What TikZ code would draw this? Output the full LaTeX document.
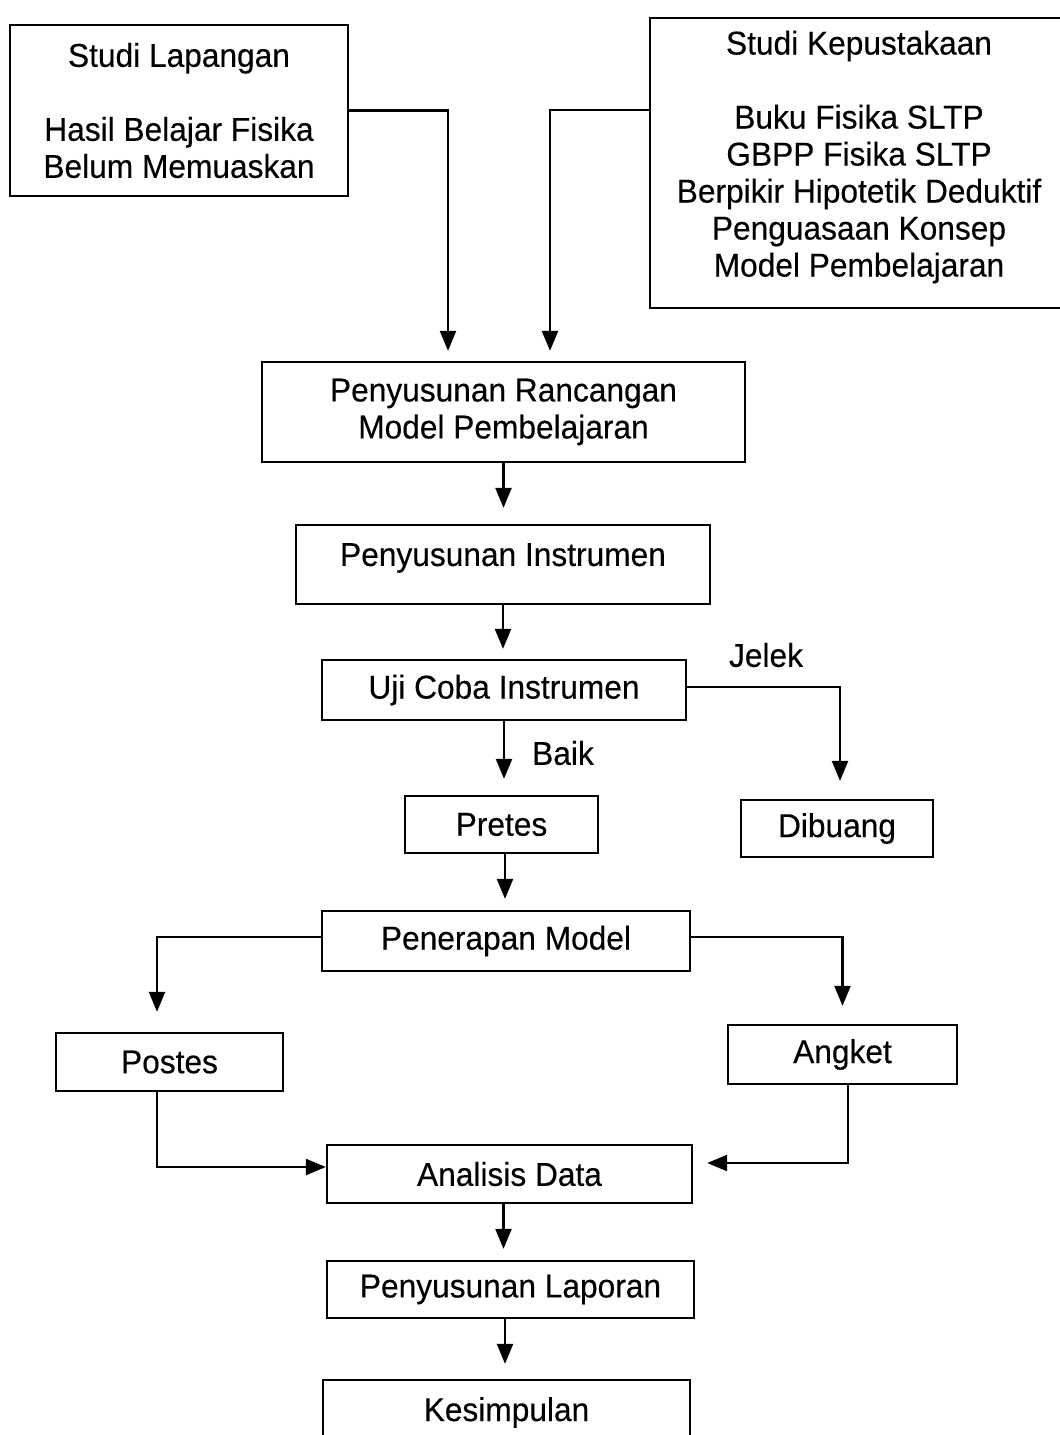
\documentclass[tikz,border=0pt]{standalone}
\usepackage{fontspec}
\setmainfont{Liberation Sans}[FakeStretch=0.96,FakeBold=0.3]
\usetikzlibrary{arrows.meta,calc}
\begin{document}
\begin{tikzpicture}[x=1pt,y=-1pt,
  box/.style={draw,line width=2.3pt,rectangle,inner sep=0pt,align=center,
    font=\fontsize{33}{37}\selectfont},
  txt/.style={inner sep=0pt,align=center,font=\fontsize{33}{37}\selectfont},
  arr/.style={line width=2.3pt,-{Triangle[width=16pt,length=20pt]}}]
\useasboundingbox (0,0) rectangle (1060,1435);
% boxes
\node[box,minimum width=338pt,minimum height=171pt] (sl) at (179,110.5)
  {Studi Lapangan\\[37pt]Hasil Belajar Fisika\\Belum Memuaskan};
\node[box,minimum width=415pt,minimum height=290pt] (sk) at (857.5,163) {};
\node[txt] (sktext) at (859,157)
  {Studi Kepustakaan\\[37pt]Buku Fisika SLTP\\GBPP Fisika SLTP\\Berpikir Hipotetik Deduktif\\Penguasaan Konsep\\Model Pembelajaran};
\node[box,minimum width=483pt,minimum height=100pt] (pr) at (503.5,412)
  {Penyusunan Rancangan\\Model Pembelajaran};
\node[box,minimum width=414pt,minimum height=79pt] (pi) at (503,564.5) {};
\node[txt] (pitext) at (503,558) {Penyusunan Instrumen};
\node[box,minimum width=364pt,minimum height=60pt] (uji) at (504,690) {Uji Coba Instrumen};
\node[box,minimum width=193pt,minimum height=57pt] (pretes) at (501.5,824.5) {Pretes};
\node[box,minimum width=192pt,minimum height=57pt] (dibuang) at (837,828.5) {Dibuang};
\node[box,minimum width=368pt,minimum height=60pt] (pm) at (506,941) {Penerapan Model};
\node[box,minimum width=227pt,minimum height=58pt] (postes) at (169.5,1062) {Postes};
\node[box,minimum width=229pt,minimum height=59pt] (angket) at (842.5,1054.5) {Angket};
\node[box,minimum width=365pt,minimum height=58pt] (ad) at (509.5,1174) {Analisis Data};
\node[box,minimum width=367pt,minimum height=57pt] (lap) at (510.5,1289.5) {Penyusunan Laporan};
\node[box,minimum width=367pt,minimum height=65pt] (kes) at (506.5,1412.5) {Kesimpulan};
% labels
\node[txt] (jelek) at (766,655) {Jelek};
\node[txt] (baik) at (563,753) {Baik};
% connectors
\draw[arr,shorten >=10pt] (sl.east) -| ([xshift=-55.5pt]pr.north);
\draw[arr,shorten >=10pt] ([yshift=53pt]sk.west) -| ([xshift=46.5pt]pr.north);
\draw[arr,shorten >=16pt] (pr.south) -- (pr.south |- pi.north);
\draw[arr,shorten >=10pt] (pi.south) -- (pi.south |- uji.north);
\draw[arr,shorten >=16pt] (uji.south) -- (uji.south |- pretes.north);
\draw[arr,shorten >=18pt] ([yshift=3pt]uji.east) -| ([xshift=3pt]dibuang.north);
\draw[arr,shorten >=11pt] ([xshift=3.5pt]pretes.south) -- ([xshift=3.5pt]pretes.south |- pm.north);
\draw[arr,shorten >=20pt] ([yshift=4pt]pm.west) -| ([xshift=-12.5pt]postes.north);
\draw[arr,shorten >=18pt] ([yshift=4pt]pm.east) -| (angket.north);
\draw[arr] ([xshift=-12.5pt]postes.south) |- ([yshift=7pt]ad.west);
\draw[arr,shorten >=14pt] ([xshift=5.5pt]angket.south) |- ([yshift=11pt]ad.east);
\draw[arr,shorten >=11pt] ([xshift=-6pt]ad.south) -- ([xshift=-6pt]ad.south |- lap.north);
\draw[arr,shorten >=15pt] ([xshift=-5.5pt]lap.south) -- ([xshift=-5.5pt]lap.south |- kes.north);
\end{tikzpicture}
\end{document}
